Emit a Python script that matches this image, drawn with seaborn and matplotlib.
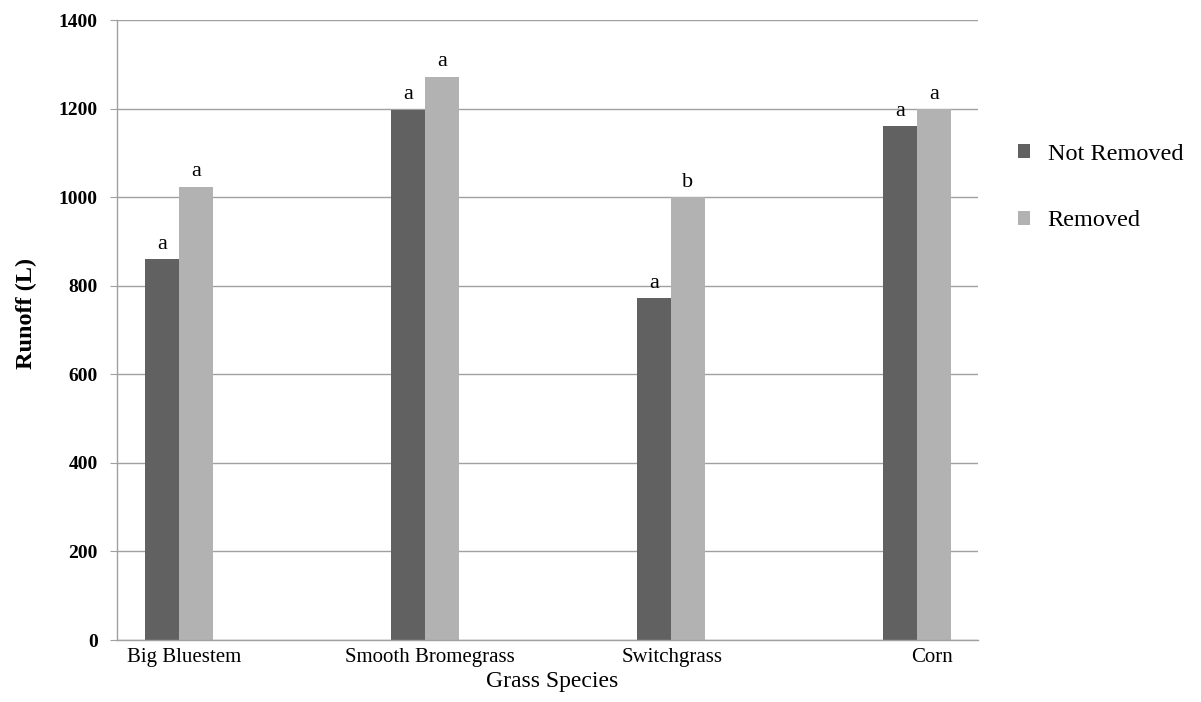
import pandas as pd
import seaborn as sns
import matplotlib.pyplot as plt
from matplotlib.transforms import ScaledTranslation

species = ['Big Bluestem', 'Smooth Bromegrass', 'Switchgrass', 'Corn']
not_removed = [860, 1197, 772, 1160]
removed = [1024, 1272, 1000, 1198]
letters_not_removed = ['a', 'a', 'a', 'a']
letters_removed = ['a', 'a', 'b', 'a']

df = pd.DataFrame({
    'Species': species * 2,
    'Runoff': not_removed + removed,
    'Treatment': ['Not Removed'] * 4 + ['Removed'] * 4,
})

sns.set_style('white')
plt.rcParams['font.family'] = ['Liberation Serif', 'DejaVu Serif']
plt.rcParams['text.color'] = 'black'
plt.rcParams['xtick.color'] = 'black'
plt.rcParams['ytick.color'] = 'black'
plt.rcParams['axes.labelcolor'] = 'black'

fig = plt.figure(figsize=(12.01, 7.02), dpi=100)
ax = fig.add_axes([0.0974, 0.0883, 0.7169, 0.8832])

sns.barplot(data=df, x='Species', y='Runoff', hue='Treatment', order=species,
            palette=['#616161', '#b2b2b2'], width=0.276, gap=0, saturation=1,
            linewidth=0, ax=ax)

for cont, labs in zip(ax.containers, [letters_not_removed, letters_removed]):
    ax.bar_label(cont, labels=labs, padding=4, fontsize=16)

ax.set_ylim(0, 1400)
ax.set_yticks(range(0, 1401, 200))
ax.set_xlim(-0.253, 3.248)
ax.yaxis.grid(True, color='#a0a0a0', linewidth=1)
ax.set_axisbelow(True)
for s in ['top', 'right']:
    ax.spines[s].set_visible(False)
for s in ['left', 'bottom']:
    ax.spines[s].set_color('#a0a0a0')
    ax.spines[s].set_linewidth(1)

ax.tick_params(axis='y', left=True, length=5, color='#a0a0a0', labelcolor='black',
               labelsize=14, pad=9)
ax.tick_params(axis='x', bottom=False, labelsize=15, pad=2)
for t in ax.get_yticklabels():
    t.set_fontweight('bold')
# the scanned labels sit a little right of the bar groups
for t, dx in zip(ax.get_xticklabels(), [5, 5, 1, 15]):
    t.set_transform(t.get_transform() + ScaledTranslation(dx / 100, 0, fig.dpi_scale_trans))

ax.set_ylabel('Runoff (L)', fontsize=17.5, fontweight='bold')
ax.yaxis.set_label_coords(-0.093, 0.527)
ax.set_xlabel('Grass Species', fontsize=17)
ax.xaxis.set_label_coords(0.505, -0.05)

ax.legend(loc='upper left', bbox_to_anchor=(1.0465, 0.800), frameon=False,
          fontsize=17.5, handlelength=0.5, handleheight=0.5, labelspacing=1.86,
          handletextpad=0.72, borderpad=0, borderaxespad=0)

fig.savefig('out.png', dpi=100)
